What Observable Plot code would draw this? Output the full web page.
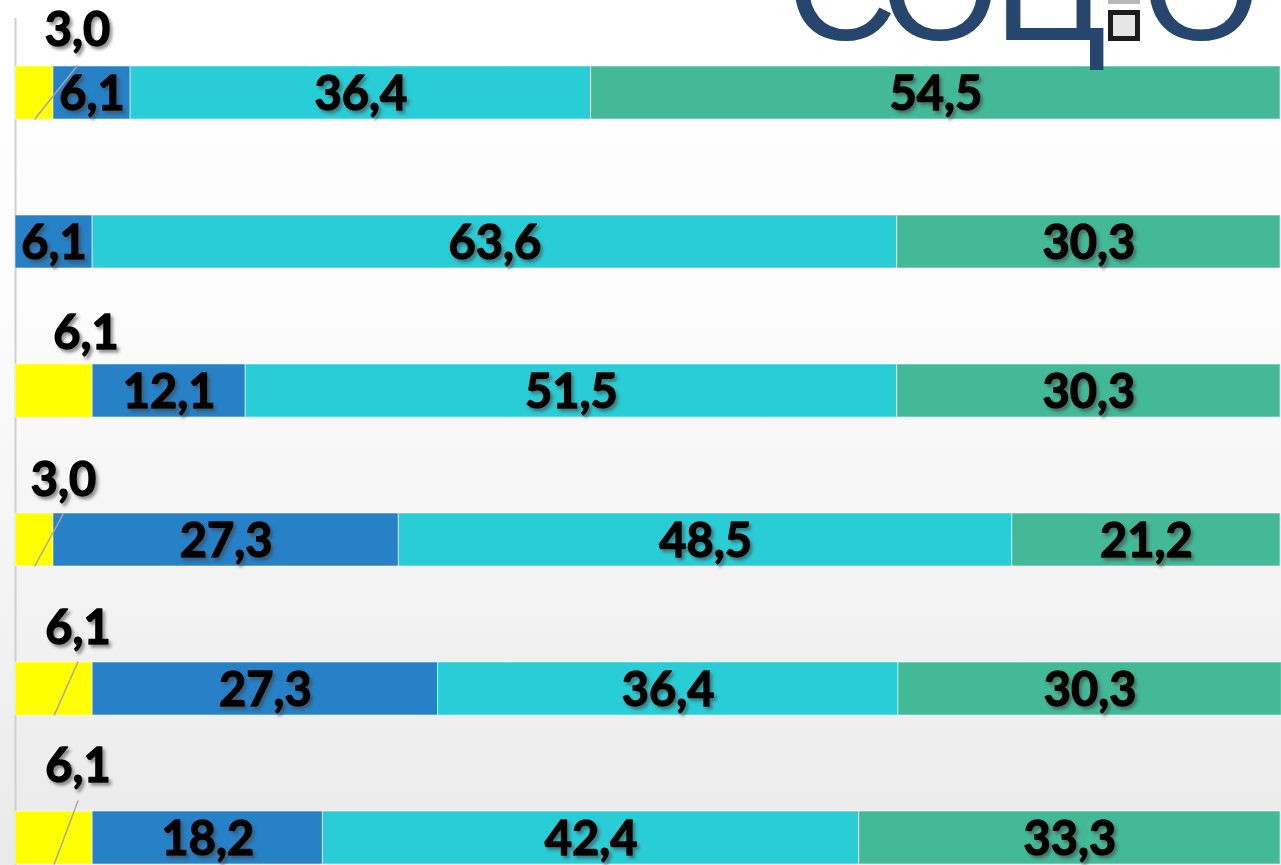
<!DOCTYPE html>
<html>
<head>
<meta charset="utf-8">
<script src="https://cdn.jsdelivr.net/npm/d3@7"></script>
<script src="https://cdn.jsdelivr.net/npm/@observablehq/plot@0.6"></script>
<style>
  html, body { margin: 0; padding: 0; }
  body {
    width: 1281px; height: 865px; overflow: hidden;
    background: linear-gradient(to bottom, #ffffff 0%, #fcfcfc 35%, #f4f4f4 65%, #eaeaea 100%);
  }
  #chart { position: absolute; left: 0; top: 0; }
</style>
</head>
<body>
<div id="chart"></div>
<script>
// ---- data ----
const rows = ["1", "2", "3", "4", "5", "6"];
const seriesNames = ["Серия 1", "Серия 2", "Серия 3", "Серия 4"];
const yellowValues = [3.0, 0, 6.1, 3.0, 6.1, 6.1];
const blueValues   = [6.1, 6.1, 12.1, 27.3, 27.3, 18.2];
const cyanValues   = [36.4, 63.6, 51.5, 48.5, 36.4, 42.4];
const greenValues  = [54.5, 30.3, 30.3, 21.2, 30.3, 33.3];
const seriesColors = ["#ffff00", "#2781c7", "#29cdd6", "#43b998"];

// ---- layout (pixels) ----
const stepPx = 149, bandPx = 53;
const pxPerUnit = 1265 / 100;
// outside (yellow) label placement per row: [dx from segment centre, label centre above bar top, leader top above bar top or null]
const outsideLayout = [[43, 36, 1], null, [32, 31, null], [29, 33, 0], [24, 34, 1], [24, 45, 11]];

const allValues = [yellowValues, blueValues, cyanValues, greenValues];
const segments = [];
rows.forEach((r, i) => {
  let cum = 0;
  allValues.forEach((vals, s) => {
    const v = vals[i];
    segments.push({row: i, series: seriesNames[s], s, value: v, x1: cum, x2: cum + v, mid: cum + v / 2,
                   y1: i, y2: i + bandPx / stepPx, label: v.toFixed(1).replace(".", ",")});
    cum += v;
  });
});
const fmtSegs = segments.filter(d => d.value > 0);
const insideSegs = fmtSegs.filter(d => d.s > 0);
const outsideSegs = fmtSegs.filter(d => d.s === 0).map(d => {
  const L = outsideLayout[d.row];
  return {...d, lx: d.mid + L[0] / pxPerUnit, ly: d.row - L[1] / stepPx,
          leaderTop: L[2] === null ? null : d.row - L[2] / stepPx};
});
const leaders = outsideSegs.filter(d => d.leaderTop !== null);

const labelFont = {fontFamily: "Lato, 'Open Sans', sans-serif", fontWeight: "bold", fontSize: 47,
                   fill: "#000", stroke: "#000", strokeWidth: 1.4};

const plot = Plot.plot({
  width: 1281, height: 865,
  marginTop: 18, marginBottom: 0, marginLeft: 15, marginRight: 1,
  x: {domain: [0, 100], range: [15, 1280], axis: null},
  y: {type: "linear", domain: [0, 6], range: [66, 66 + 6 * stepPx], axis: null},
  color: {domain: seriesNames, range: seriesColors},
  style: {background: "transparent", overflow: "visible"},
  marks: [
    Plot.ruleX([0], {stroke: "#cfcfcf", strokeWidth: 2}),
    Plot.rect(fmtSegs, {x1: "x1", x2: "x2", y1: "y1", y2: "y2", fill: "series", stroke: "#ffffff", strokeOpacity: 0.55, strokeWidth: 1}),
    Plot.link(leaders, {x1: "mid", y1: "y2", x2: "lx", y2: "leaderTop", stroke: "#a6a6a6", strokeWidth: 1.5}),
    Plot.text(insideSegs, {x: "mid", y: d => (d.y1 + d.y2) / 2, text: "label", dy: 2, ...labelFont}),
    Plot.text(outsideSegs, {x: "lx", y: "ly", text: "label", ...labelFont})
  ]
});

document.getElementById("chart").appendChild(plot);

const svg = d3.select(plot);
const defs = svg.insert("defs", ":first-child");
const f = defs.append("filter").attr("id", "lblShadow").attr("x", "-20%").attr("y", "-20%").attr("width", "150%").attr("height", "160%");
f.append("feDropShadow").attr("dx", 2.5).attr("dy", 3).attr("stdDeviation", 1.6)
  .attr("flood-color", "#404040").attr("flood-opacity", 0.55);
svg.selectAll("g[aria-label='text']").attr("filter", "url(#lblShadow)");

// ---- logo (partially cut at top) ----
const logo = svg.append("g").attr("font-family", "'Liberation Sans', Arial, sans-serif")
  .attr("font-size", 152).attr("fill", "#27466e").attr("text-anchor", "middle");
const logoLetters = [["С", 842], ["О", 940], ["Ц", 1050], ["О", 1201]];
logoLetters.forEach(([ch, x]) => logo.append("text").attr("x", x).attr("y", 40).text(ch));
svg.append("rect").attr("x", 1108).attr("y", 0).attr("width", 32).attr("height", 4).attr("fill", "#b8b8b8");
svg.append("rect").attr("x", 1110.5).attr("y", 12.5).attr("width", 27).attr("height", 26)
  .attr("fill", "#e6e6e6").attr("stroke", "#1c1c1c").attr("stroke-width", 5);
</script>
</body>
</html>
